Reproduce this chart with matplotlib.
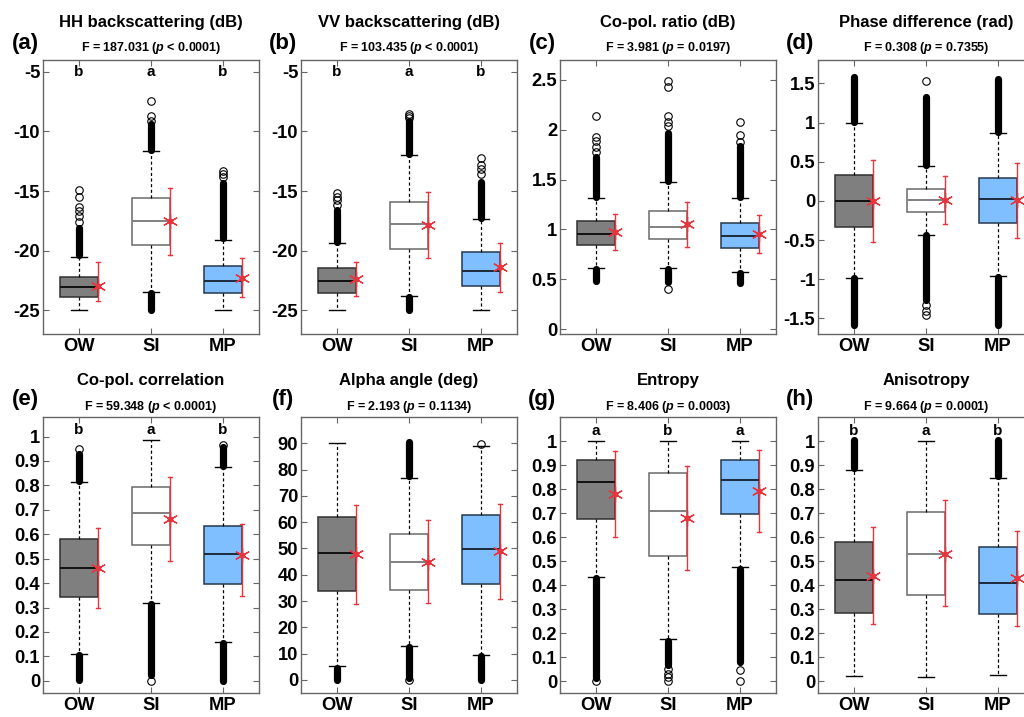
import matplotlib
matplotlib.use("Agg")
import matplotlib.pyplot as plt

plt.rcParams['font.family'] = ['Liberation Sans', 'DejaVu Sans']
plt.rcParams['font.weight'] = 'bold'
plt.rcParams['axes.unicode_minus'] = False
plt.rcParams['mathtext.fontset'] = 'custom'
plt.rcParams['mathtext.it'] = 'Liberation Sans:italic:bold'
plt.rcParams['mathtext.rm'] = 'Liberation Sans:bold'

categories = ["OW", "SI", "MP"]
box_colors = ["#7f7f7f", "#ffffff", "#80bfff"]
edge_colors = ["#303030", "#6a6a6a", "#25384c"]
median_colors = ["#111111", "#808080", "#1a2a3a"]

panel_letters = ["(a)", "(b)", "(c)", "(d)", "(e)", "(f)", "(g)", "(h)"]
titles = ["HH backscattering (dB)", "VV backscattering (dB)", "Co-pol. ratio (dB)",
          "Phase difference (rad)", "Co-pol. correlation", "Alpha angle (deg)",
          "Entropy", "Anisotropy"]
f_values = ["187.031", "103.435", "3.981", "0.308", "59.348", "2.193", "8.406", "9.664"]
p_texts = ["< 0.0001", "< 0.0001", "= 0.0197", "= 0.7355", "< 0.0001", "= 0.1134",
           "= 0.0003", "= 0.0001"]
sig_letters = [["b", "a", "b"], ["b", "a", "b"], None, None,
               ["b", "a", "b"], None, ["a", "b", "a"], ["b", "a", "b"]]
sig_y = [-5, -5, None, None, 1.025, None, 1.04, 1.04]

ylims = [(-27, -4), (-27, -4), (-0.05, 2.7), (-1.7, 1.8),
         (-0.05, 1.08), (-5, 100), (-0.05, 1.1), (-0.05, 1.1)]
yticks = [[-25, -20, -15, -10, -5], [-25, -20, -15, -10, -5],
          [0, 0.5, 1, 1.5, 2, 2.5], [-1.5, -1, -0.5, 0, 0.5, 1, 1.5],
          [0, 0.1, 0.2, 0.3, 0.4, 0.5, 0.6, 0.7, 0.8, 0.9, 1],
          [0, 10, 20, 30, 40, 50, 60, 70, 80, 90],
          [0, 0.1, 0.2, 0.3, 0.4, 0.5, 0.6, 0.7, 0.8, 0.9, 1],
          [0, 0.1, 0.2, 0.3, 0.4, 0.5, 0.6, 0.7, 0.8, 0.9, 1]]

# ---- box statistics (OW, SI, MP) ----
a_q1 = [-23.91, -19.55, -23.58]; a_med = [-23.08, -17.52, -22.58]; a_q3 = [-22.19, -15.6, -21.33]
a_wlo = [-25.0, -23.47, -25.0]; a_whi = [-20.52, -11.65, -19.07]
a_mean = [-22.94, -17.52, -22.30]; a_etop = [-20.97, -14.74, -20.63]; a_ebot = [-24.22, -20.38, -23.91]
a_bands = [[(-20.4, -18.1)], [(-11.55, -9.4), (-24.95, -23.6)], [(-18.95, -14.3)]]
a_pts = [[-14.93, -15.49, -16.3, -16.7, -17.1, -17.6], [-7.42, -8.73, -9.09], [-13.32, -13.54, -13.82]]

b_q1 = [-23.55, -19.85, -22.94]; b_med = [-22.58, -17.8, -21.69]; b_q3 = [-21.47, -15.96, -20.13]
b_wlo = [-25.0, -23.78, -25.0]; b_whi = [-19.38, -12.01, -17.35]
b_mean = [-22.39, -17.85, -21.41]; b_etop = [-20.92, -15.07, -19.33]; b_ebot = [-23.83, -20.63, -23.47]
b_bands = [[(-19.3, -16.6)], [(-11.9, -9.1), (-24.95, -23.9)], [(-17.25, -14.2)]]
b_pts = [[-15.15, -15.49, -15.77, -16.18], [-8.53, -8.67, -8.85], [-12.2, -12.84, -13.12, -13.54]]

c_q1 = [0.84, 0.90, 0.817]; c_med = [0.957, 1.027, 0.933]; c_q3 = [1.08, 1.183, 1.067]
c_wlo = [0.617, 0.617, 0.577]; c_whi = [1.31, 1.473, 1.31]
c_mean = [0.973, 1.05, 0.95]; c_etop = [1.15, 1.277, 1.14]; c_ebot = [0.793, 0.827, 0.767]
c_bands = [[(1.32, 1.73), (0.483, 0.607)], [(1.483, 1.967), (0.467, 0.607)], [(1.32, 1.833), (0.46, 0.567)]]
c_pts = [[2.14, 1.927, 1.883, 1.83, 1.78], [2.493, 2.427, 2.133, 2.08, 2.033, 0.40], [2.077, 1.95, 1.88]]

d_q1 = [-0.332, -0.14, -0.277]; d_med = [0.0, 0.01, 0.021]; d_q3 = [0.336, 0.157, 0.298]
d_wlo = [-0.979, -0.43, -0.962]; d_whi = [1.0, 0.447, 0.872]
d_mean = [0.0, 0.01, 0.017]; d_etop = [0.519, 0.319, 0.485]; d_ebot = [-0.519, -0.298, -0.468]
d_bands = [[(1.01, 1.583), (-1.587, -0.99)], [(0.457, 1.328), (-1.268, -0.44)], [(0.882, 1.562), (-1.587, -0.972)]]
d_pts = [[], [1.528, -1.33, -1.40, -1.46], []]

e_q1 = [0.344, 0.556, 0.397]; e_med = [0.463, 0.686, 0.518]; e_q3 = [0.579, 0.795, 0.634]
e_wlo = [0.111, 0.319, 0.159]; e_whi = [0.812, 0.986, 0.874]
e_mean = [0.463, 0.662, 0.514]; e_etop = [0.625, 0.836, 0.641]; e_ebot = [0.299, 0.490, 0.347]
e_bands = [[(0.818, 0.929), (0.004, 0.105)], [(0.025, 0.313)], [(0.88, 0.956), (0.0, 0.153)]]
e_pts = [[0.947], [0.0], [0.964]]

f_q1 = [33.7, 34.1, 36.3]; f_med = [48.1, 44.7, 49.9]; f_q3 = [62.1, 55.4, 62.6]
f_wlo = [5.09, 13.0, 9.5]; f_whi = [90.0, 76.8, 89.0]
f_mean = [47.7, 44.9, 49.0]; f_etop = [66.4, 60.8, 66.8]; f_ebot = [28.9, 29.3, 30.9]
f_bands = [[(0.0, 4.5)], [(77.4, 90.4), (0.8, 12.4)], [(0.0, 8.9)]]
f_pts = [[], [0.0], [89.8]]

g_q1 = [0.676, 0.522, 0.696]; g_med = [0.828, 0.707, 0.837]; g_q3 = [0.921, 0.865, 0.921]
g_wlo = [0.435, 0.174, 0.474]; g_whi = [1.0, 1.0, 1.0]
g_mean = [0.78, 0.679, 0.791]; g_etop = [0.958, 0.895, 0.961]; g_ebot = [0.598, 0.463, 0.619]
g_bands = [[(0.012, 0.429)], [(0.066, 0.168)], [(0.08, 0.468)]]
g_pts = [[0.0], [0.05, 0.03, 0.017, 0.0], [0.045, 0.0]]

h_q1 = [0.283, 0.359, 0.279]; h_med = [0.422, 0.529, 0.408]; h_q3 = [0.579, 0.703, 0.558]
h_wlo = [0.022, 0.018, 0.025]; h_whi = [0.88, 1.0, 0.847]
h_mean = [0.439, 0.531, 0.429]; h_etop = [0.641, 0.753, 0.627]; h_ebot = [0.237, 0.311, 0.231]
h_bands = [[(0.886, 1.003)], [], [(0.853, 1.003)]]
h_pts = [[], [], []]

panels = [
    (a_q1, a_med, a_q3, a_wlo, a_whi, a_mean, a_etop, a_ebot, a_bands, a_pts),
    (b_q1, b_med, b_q3, b_wlo, b_whi, b_mean, b_etop, b_ebot, b_bands, b_pts),
    (c_q1, c_med, c_q3, c_wlo, c_whi, c_mean, c_etop, c_ebot, c_bands, c_pts),
    (d_q1, d_med, d_q3, d_wlo, d_whi, d_mean, d_etop, d_ebot, d_bands, d_pts),
    (e_q1, e_med, e_q3, e_wlo, e_whi, e_mean, e_etop, e_ebot, e_bands, e_pts),
    (f_q1, f_med, f_q3, f_wlo, f_whi, f_mean, f_etop, f_ebot, f_bands, f_pts),
    (g_q1, g_med, g_q3, g_wlo, g_whi, g_mean, g_etop, g_ebot, g_bands, g_pts),
    (h_q1, h_med, h_q3, h_wlo, h_whi, h_mean, h_etop, h_ebot, h_bands, h_pts),
]

W, H = 1024, 717
fig = plt.figure(figsize=(W / 100, H / 100), dpi=100)

col_left = [43, 301, 560, 818]
ax_w = 216
row_top = [60, 417]
row_bot = [334, 693]

positions = [1, 2, 3]
red = "#e8343c"

for i, (q1, med, q3, wlo, whi, mean, etop, ebot, bands, pts) in enumerate(panels):
    r, c = divmod(i, 4)
    left = col_left[c]
    top, bot = row_top[r], row_bot[r]
    ax = fig.add_axes([left / W, (H - bot) / H, ax_w / W, (bot - top) / H])

    stats = []
    for k in range(3):
        stats.append(dict(med=med[k], q1=q1[k], q3=q3[k], whislo=wlo[k], whishi=whi[k],
                          fliers=[], label=categories[k]))
    bp = ax.bxp(stats, positions=positions, widths=0.52, capwidths=0.22,
                showfliers=False, patch_artist=True,
                whiskerprops=dict(color="black", linestyle=(0, (2.5, 2)), linewidth=0.9),
                capprops=dict(color="black", linewidth=1.0),
                medianprops=dict(linewidth=1.4))
    for k in range(3):
        bp['boxes'][k].set_facecolor(box_colors[k])
        bp['boxes'][k].set_edgecolor(edge_colors[k])
        bp['boxes'][k].set_linewidth(1.1)
        bp['medians'][k].set_color(median_colors[k])

    # outliers: dense bands and isolated circles
    for k in range(3):
        for lo, hi in bands[k]:
            ax.plot([positions[k], positions[k]], [lo, hi], color="black", linewidth=5.2,
                    solid_capstyle="round", zorder=3)
        if pts[k]:
            ax.plot([positions[k]] * len(pts[k]), pts[k], linestyle="none", marker="o",
                    markersize=5.4, markerfacecolor="none", markeredgecolor="black",
                    markeredgewidth=0.8, zorder=3)

    # mean +- sd
    for k in range(3):
        xe = positions[k] + 0.26
        ax.plot([xe, xe], [ebot[k], etop[k]], color=red, linewidth=1.0, zorder=4)
        for yv in (ebot[k], etop[k]):
            ax.plot([xe - 0.025, xe + 0.025], [yv, yv], color=red, linewidth=1.0, zorder=4)
        ax.plot([xe], [mean[k]], marker=(6, 2, 0), markersize=11, color=red,
                markeredgewidth=0.9, zorder=5)
        ax.plot([xe], [mean[k]], marker="o", markersize=3.2, color=red, zorder=5)

    ax.set_xlim(0.5, 3.5)
    ax.set_ylim(*ylims[i])
    ax.set_yticks(yticks[i])
    ax.set_yticklabels(["%g" % v for v in yticks[i]])
    ax.set_xticks(positions)
    ax.set_xticklabels(categories)
    ax.tick_params(direction="in", length=4, width=0.8, color="#666666",
                   top=True, right=True, labelsize=13.2, pad=3)
    ax.tick_params(axis="y", pad=2)
    for lab in ax.get_xticklabels() + ax.get_yticklabels():
        lab.set_fontweight("bold")
    for s in ax.spines.values():
        s.set_color("#666666")
        s.set_linewidth(1.0)

    if sig_letters[i]:
        for k in range(3):
            ax.text(positions[k], sig_y[i], sig_letters[i][k], ha="center", va="center",
                    fontsize=11, fontweight="bold")

    # titles
    cx = (left + ax_w / 2) / W
    if r == 0:
        ty, fy, ly = 22, 48, 44
    else:
        ty, fy, ly = 381, 407, 400
    fig.text(cx, 1 - ty / H, titles[i], ha="center", va="center", fontsize=12,
             fontweight="bold")
    fig.text(cx, 1 - fy / H, "F = %s ($\\mathit{p}$ %s)" % (f_values[i], p_texts[i]),
             ha="center", va="center", fontsize=9, fontweight="bold")
    fig.text((left - 18) / W, 1 - ly / H, panel_letters[i], ha="center", va="center",
             fontsize=16, fontweight="bold")

fig.savefig("out.png", dpi=100)
